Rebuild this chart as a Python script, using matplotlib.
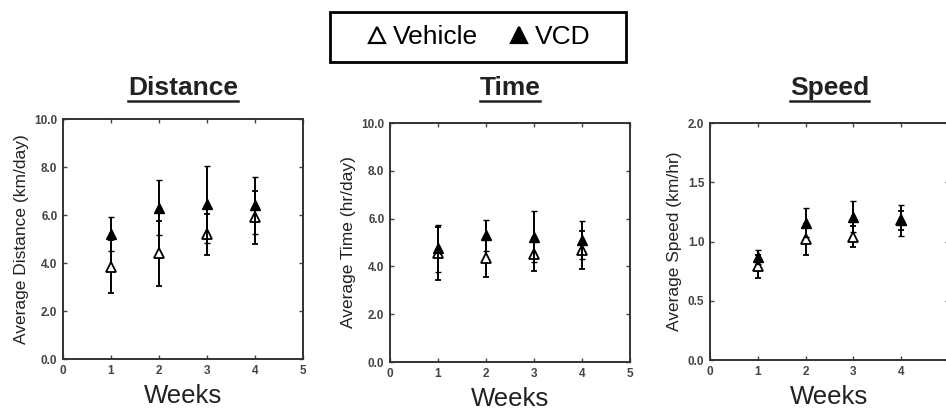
import matplotlib
matplotlib.use('Agg')
import matplotlib.pyplot as plt
from matplotlib.lines import Line2D
from matplotlib.patches import Rectangle
import numpy as np

plt.rcParams['font.family'] = ['Liberation Sans', 'DejaVu Sans']

weeks = [1, 2, 3, 4]

# distance (km/day)
dist_vehicle = [3.85, 4.4, 5.2, 5.9]
dist_vehicle_err = [1.1, 1.35, 0.85, 1.1]
dist_vcd = [5.2, 6.3, 6.45, 6.4]
dist_vcd_err = [0.7, 1.15, 1.6, 1.2]

# time (hr/day)
time_vehicle = [4.55, 4.35, 4.5, 4.7]
time_vehicle_err = [1.1, 0.8, 0.7, 0.8]
time_vcd = [4.75, 5.3, 5.25, 5.1]
time_vcd_err = [1.0, 0.65, 1.05, 0.8]

# speed (km/hr)
speed_vehicle = [0.79, 1.02, 1.04, 1.18]
speed_vehicle_err = [0.1, 0.13, 0.09, 0.08]
speed_vcd = [0.87, 1.16, 1.21, 1.18]
speed_vcd_err = [0.06, 0.12, 0.13, 0.13]

panels = [
    ('Distance', 'Average Distance (km/day)', dist_vehicle, dist_vehicle_err, dist_vcd, dist_vcd_err,
     10.0, np.arange(0, 10.1, 2.0)),
    ('Time', 'Average Time (hr/day)', time_vehicle, time_vehicle_err, time_vcd, time_vcd_err,
     10.0, np.arange(0, 10.1, 2.0)),
    ('Speed', 'Average Speed (km/hr)', speed_vehicle, speed_vehicle_err, speed_vcd, speed_vcd_err,
     2.0, np.arange(0, 2.01, 0.5)),
]

W, H = 946, 411
fig = plt.figure(figsize=(W / 100, H / 100), dpi=100)

# axes boxes in pixels: left, top, right, bottom
boxes = [(63, 119, 303, 359), (390, 123, 630, 362), (710, 123, 949, 360)]

spine_col = '#333333'
txt_col = '#222222'

for (title, ylab, veh, veh_err, vcd, vcd_err, ymax, yticks), (l, t, r, b) in zip(panels, boxes):
    ax = fig.add_axes([l / W, 1 - b / H, (r - l) / W, (b - t) / H])
    ax.errorbar(weeks, veh, yerr=veh_err, fmt='^', color='black', mfc='white', mec='black',
                ms=7, mew=1.3, elinewidth=1.4, capsize=2, capthick=1.4, zorder=3)
    ax.errorbar(weeks, vcd, yerr=vcd_err, fmt='^', color='black', mfc='black', mec='black',
                ms=7, mew=1.0, elinewidth=1.4, capsize=2, capthick=1.4, zorder=4)
    ax.set_xlim(0, 5)
    ax.set_ylim(0, ymax)
    ax.set_xticks(range(6))
    ax.set_yticks(yticks)
    ax.set_yticklabels(['%.1f' % v for v in yticks])
    ax.tick_params(direction='in', top=True, right=True, length=3, width=1,
                   labelsize=8.5, colors='#444444', pad=4)
    for lab in ax.get_xticklabels() + ax.get_yticklabels():
        lab.set_fontweight('bold')
    for s in ax.spines.values():
        s.set_linewidth(1.4)
        s.set_color(spine_col)
    ax.set_xlabel('Weeks', fontsize=18.5, labelpad=5, color=txt_col)
    ax.set_ylabel(ylab, fontsize=12.5, labelpad=4, color=txt_col)

    cx = (l + r) / 2 / W
    txt = fig.text(cx, 1 - 88 / H, title, ha='center', va='center', fontsize=19,
                   fontweight='bold', color=txt_col)
    fig.canvas.draw()
    bb = txt.get_window_extent(renderer=fig.canvas.get_renderer())
    x0, x1 = bb.x0 / W, bb.x1 / W
    fig.add_artist(Line2D([x0, x1], [1 - 101 / H, 1 - 101 / H], color=txt_col, lw=1.8,
                          transform=fig.transFigure))

# legend box drawn by hand to get the wide padding
fig.add_artist(Rectangle((330 / W, 1 - 62 / H), 296 / W, 50 / H, transform=fig.transFigure,
                         fill=False, edgecolor='black', lw=2))
handles = [
    Line2D([], [], marker='^', ls='none', mfc='white', mec='black', ms=12, mew=1.6),
    Line2D([], [], marker='^', ls='none', mfc='black', mec='black', ms=12, mew=1.6),
]
fig.legend(handles, ['Vehicle', 'VCD'], loc='center', bbox_to_anchor=(478 / W, 1 - 37 / H),
           ncol=2, fontsize=19, frameon=False, handletextpad=0.15,
           columnspacing=1.1, handlelength=0.9, borderpad=0.2)

fig.savefig('out.png', dpi=100)
